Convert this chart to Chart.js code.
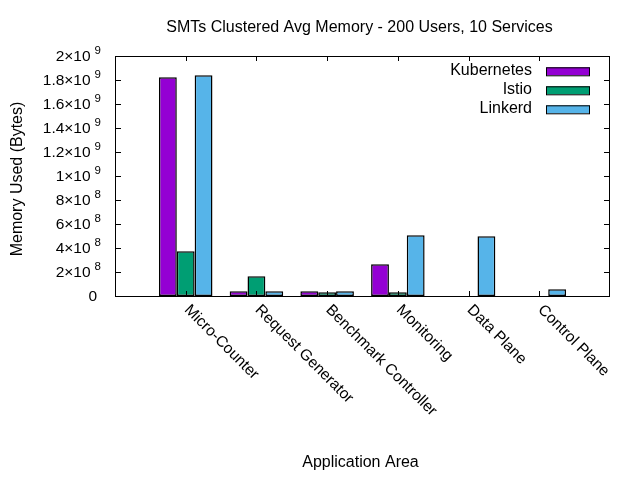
<!DOCTYPE html>
<html>
<head>
<meta charset="utf-8">
<style>
  html, body { margin: 0; padding: 0; background: #fff; }
  canvas { display: block; }
</style>
<script src="https://cdn.jsdelivr.net/npm/chart.js@4/dist/chart.umd.min.js"></script>
</head>
<body>
<canvas id="c" width="640" height="480"></canvas>
<script>
const chartTitle = 'SMTs Clustered Avg Memory - 200 Users, 10 Services';
const xAxisTitle = 'Application Area';
const yAxisTitle = 'Memory Used (Bytes)';
const categories = ['Micro-Counter', 'Request Generator', 'Benchmark Controller', 'Monitoring', 'Data Plane', 'Control Plane'];
const seriesNames = ['Kubernetes', 'Istio', 'Linkerd'];
const kubernetes = [1.823e9, 0.039e9, 0.039e9, 0.264e9, null, null];
const istio      = [0.372e9, 0.164e9, 0.031e9, 0.031e9, null, null];
const linkerd    = [1.839e9, 0.039e9, 0.039e9, 0.506e9, 0.4975e9, 0.056e9];
const seriesColors = ['#9400D3', '#009E73', '#56B4E9'];
const yTickValues = [0, 2e8, 4e8, 6e8, 8e8, 1e9, 1.2e9, 1.4e9, 1.6e9, 1.8e9, 2e9];
const yTickLabels = [['0', ''], ['2×10', '8'], ['4×10', '8'], ['6×10', '8'], ['8×10', '8'], ['1×10', '9'],
                     ['1.2×10', '9'], ['1.4×10', '9'], ['1.6×10', '9'], ['1.8×10', '9'], ['2×10', '9']];

const FONT = '"Liberation Sans", Arial, sans-serif';
// pad with an empty slot on each side (gnuplot range -1..6)
const xLabels = [''].concat(categories, ['']);
const pad = arr => [null].concat(arr, [null]);
const seriesData = [kubernetes, istio, linkerd];

const decor = {
  id: 'decor',
  afterDraw(chart) {
    const { ctx, chartArea: a, scales: { x, y } } = chart;
    ctx.save();
    ctx.fillStyle = '#000';
    ctx.strokeStyle = '#000';
    ctx.lineWidth = 1;
    // frame
    ctx.strokeRect(a.left + 0.5, a.top + 0.5, a.right - a.left - 1, a.bottom - a.top);
    // y ticks (inward, mirrored)
    ctx.beginPath();
    yTickValues.forEach(v => {
      const py = Math.round(y.getPixelForValue(v)) + 0.5;
      ctx.moveTo(a.left, py); ctx.lineTo(a.left + 6, py);
      ctx.moveTo(a.right - 6, py); ctx.lineTo(a.right, py);
    });
    // x ticks
    categories.forEach((c, i) => {
      const px = Math.round(x.getPixelForValue(i + 1)) + 0.5;
      ctx.moveTo(px, a.bottom); ctx.lineTo(px, a.bottom - 5);
      ctx.moveTo(px, a.top); ctx.lineTo(px, a.top + 5);
    });
    ctx.stroke();

    // y tick labels with superscript exponent
    yTickValues.forEach((v, i) => {
      const py = y.getPixelForValue(v);
      const [base, exp] = yTickLabels[i];
      ctx.font = '15.5px ' + FONT;
      ctx.textBaseline = 'middle';
      if (!exp) {
        ctx.textAlign = 'right';
        ctx.fillText(base, 97, py + 1);
        return;
      }
      ctx.font = '11.5px ' + FONT;
      const ew = ctx.measureText(exp).width;
      ctx.font = '15.5px ' + FONT;
      const bw = ctx.measureText(base).width;
      const start = 101 - ew - 4 - bw;
      ctx.textAlign = 'left';
      ctx.fillText(base, start, py + 1);
      ctx.font = '11.5px ' + FONT;
      ctx.textBaseline = 'alphabetic';
      ctx.fillText(exp, start + bw + 4, py - 2.5);
    });

    // x category labels, rotated 45° clockwise
    ctx.font = '15.5px ' + FONT;
    ctx.textAlign = 'left';
    ctx.textBaseline = 'alphabetic';
    categories.forEach((c, i) => {
      const px = x.getPixelForValue(i + 1);
      ctx.save();
      ctx.translate(px - 2, a.bottom + 14.5);
      ctx.rotate(Math.PI / 4);
      ctx.fillText(c, 0, 0);
      ctx.restore();
    });

    // title and axis titles
    ctx.textAlign = 'center';
    ctx.textBaseline = 'middle';
    ctx.font = '16px ' + FONT;
    ctx.fillText(chartTitle, 359.5, 28);
    ctx.fillText(xAxisTitle, 360.5, 463);
    ctx.save();
    ctx.translate(17.5, 179);
    ctx.rotate(-Math.PI / 2);
    ctx.fillText(yAxisTitle, 0, 0);
    ctx.restore();

    // legend (gnuplot style: text right-aligned, swatch on right)
    chart.data.datasets.forEach((ds, i) => {
      const cy = 71.3 + i * 19;
      ctx.textAlign = 'right';
      ctx.textBaseline = 'alphabetic';
      ctx.font = '16px ' + FONT;
      ctx.fillStyle = '#000';
      ctx.fillText(ds.label, 532, cy + 4);
      ctx.fillStyle = ds.backgroundColor;
      ctx.fillRect(546, cy - 4, 44, 8);
      ctx.strokeRect(546.5, cy - 3.5, 43, 8);
    });
    ctx.restore();
  }
};

new Chart(document.getElementById('c'), {
  type: 'bar',
  data: {
    labels: xLabels,
    datasets: seriesNames.map((name, i) => ({
      label: name,
      data: pad(seriesData[i]),
      backgroundColor: seriesColors[i],
      borderColor: '#000',
      borderWidth: 1.5,
      borderSkipped: false,
      categoryPercentage: 0.757,
      barPercentage: 1.0
    }))
  },
  options: {
    animation: false,
    responsive: false,
    devicePixelRatio: 1,
    layout: { padding: { left: 115, right: 30, top: 56, bottom: 184 } },
    plugins: { legend: { display: false }, title: { display: false }, tooltip: { enabled: false } },
    scales: {
      x: { display: false, offset: false },
      y: { display: false, min: 0, max: 2e9 }
    }
  },
  plugins: [decor]
});
</script>
</body>
</html>
